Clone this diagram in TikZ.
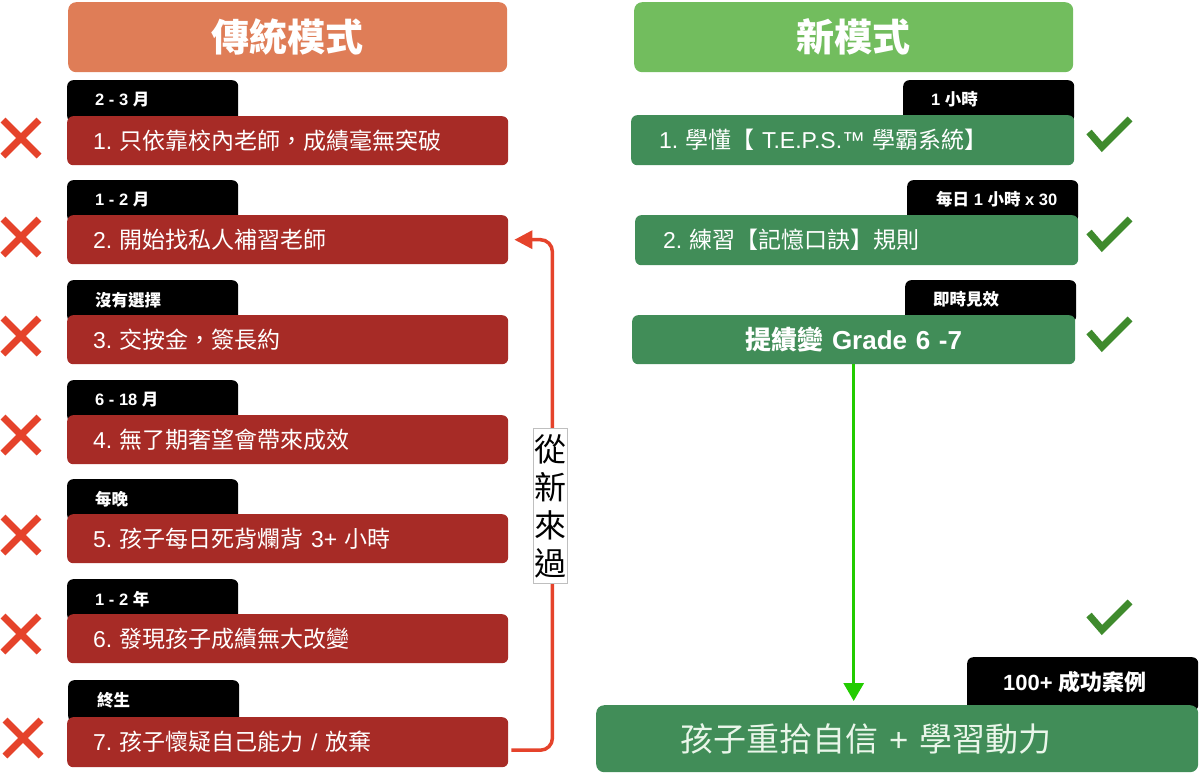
\documentclass[tikz,border=0pt]{standalone}
\usepackage{fontspec}
\setmainfont{Noto Sans CJK TC}
\newfontfamily\lat{Liberation Sans}
\newcommand\numb[1]{{\lat #1.}\hspace{7pt}}
\usetikzlibrary{arrows.meta,calc}
\definecolor{orangeT}{HTML}{DF7D57}
\definecolor{greenT}{HTML}{72BD5E}
\definecolor{boxred}{HTML}{A72B26}
\definecolor{boxgreen}{HTML}{418D58}
\definecolor{crossred}{HTML}{E5432B}
\definecolor{checkgreen}{HTML}{3F8B2D}
\definecolor{arrowgreen}{HTML}{22CC00}
\definecolor{fintext}{HTML}{EAF6EA}
\tikzset{
  titlebox/.style={rounded corners=8pt, text=white, font=\bfseries\fontsize{38}{44}\selectfont,
    minimum width=439pt, minimum height=70pt, inner sep=0pt, anchor=north west},
  lbox/.style={fill=boxred, rounded corners=6pt, text=white, font=\fontsize{23}{27}\selectfont,
    inner xsep=26pt, inner ysep=0pt, text width=389pt, minimum height=49pt, align=left, anchor=north west},
  rbox/.style={fill=boxgreen, rounded corners=6pt, text=white, font=\fontsize{23}{27}\selectfont,
    inner xsep=28pt, inner ysep=0pt, text width=387pt, minimum height=50pt, align=left, anchor=north west},
  tagbox/.style={fill=black, rounded corners=6pt, minimum width=171pt, minimum height=42pt,
    anchor=north west, inner sep=0pt},
  tagtext/.style={text=white, font=\bfseries\fontsize{16.5}{19}\selectfont, anchor=west, inner sep=0pt},
  crossline/.style={draw=crossred, line width=7pt},
  checkline/.style={draw=checkgreen, line width=7pt, line join=miter},
  redoline/.style={draw=crossred, line width=3.5pt, rounded corners=12pt,
    -{Triangle[width=18pt,length=18pt]}},
  goline/.style={draw=arrowgreen, line width=3pt, -{Triangle[width=20pt,length=18pt]}},
}
\begin{document}
\begin{tikzpicture}[x=1pt,y=-1pt]
\useasboundingbox (0,0) rectangle (1200,774);

% titles
\node[titlebox, fill=orangeT] (tL) at (68,2) {傳統模式};
\node[titlebox, fill=greenT] (tR) at (634,2) {新模式};

% left column
\node[tagbox] (lt1) at (67,80) {};
\node[lbox] (l1) at (67,116) {\numb{1}只依靠校內老師，成績毫無突破};
\node[tagtext] (lx1) at ($(lt1.north west)+(28,20)$) {{\lat 2 - 3 }月};

\node[tagbox] (lt2) at (67,180) {};
\node[lbox] (l2) at (67,215) {\numb{2}開始找私人補習老師};
\node[tagtext] (lx2) at ($(lt2.north west)+(28,20)$) {{\lat 1 - 2 }月};

\node[tagbox] (lt3) at (67,280) {};
\node[lbox] (l3) at (67,315) {\numb{3}交按金，簽長約};
\node[tagtext] (lx3) at ($(lt3.north west)+(28,20)$) {沒有選擇};

\node[tagbox] (lt4) at (67,380) {};
\node[lbox] (l4) at (67,415) {\numb{4}無了期奢望會帶來成效};
\node[tagtext] (lx4) at ($(lt4.north west)+(28,20)$) {{\lat 6 - 18 }月};

\node[tagbox] (lt5) at (67,479) {};
\node[lbox] (l5) at (67,514) {\numb{5}孩子每日死背爛背{\lat\ 3+ }小時};
\node[tagtext] (lx5) at ($(lt5.north west)+(28,20)$) {每晚};

\node[tagbox] (lt6) at (67,579) {};
\node[lbox] (l6) at (67,614) {\numb{6}發現孩子成績無大改變};
\node[tagtext] (lx6) at ($(lt6.north west)+(28,20)$) {{\lat 1 - 2 }年};

\node[tagbox] (lt7) at (68,680) {};
\node[lbox, minimum height=50pt] (l7) at (67,717) {\numb{7}孩子懷疑自己能力{\lat\ / }放棄};
\node[tagtext] (lx7) at ($(lt7.north west)+(29,20)$) {終生};

% crosses
\foreach \yy in {138,237,336,435,535,634} {
  \draw[crossline] (3,\yy-18) -- (39,\yy+18);
  \draw[crossline] (3,\yy+18) -- (39,\yy-18);
}
\draw[crossline] (5,720) -- (41,756);
\draw[crossline] (5,756) -- (41,720);

% right column
\node[tagbox] (rt1) at (903,80) {};
\node[rbox] (r1) at (631,115) {\numb{1}學懂【{\lat\ T.E.P.S.™ }學霸系統】};
\node[tagtext] (rx1) at ($(rt1.north west)+(28,19)$) {{\lat 1 }小時};

\node[tagbox] (rt2) at (907,180) {};
\node[rbox] (r2) at (635,215) {\numb{2}練習【記憶口訣】規則};
\node[tagtext] (rx2) at ($(rt2.north west)+(29,19)$) {每日{\lat\ 1 }小時{\lat\ x 30}};

\node[tagbox] (rt3) at (905,280) {};
\node[rbox, inner xsep=10pt, text width=423pt, align=center, font=\bfseries\fontsize{26}{30}\selectfont, minimum height=49pt] (r3) at (632,315) {提績變{\lat\ Grade 6 -7}};
\node[tagtext] (rx3) at ($(rt3.north west)+(28,19)$) {即時見效};

% checks
\foreach \yy in {135,235,335,618} {
  \draw[checkline] (1089,\yy-3) -- (1102,\yy+12) -- (1130,\yy-16);
}

% final
\node[tagbox, minimum width=231pt, minimum height=54pt] (ft) at (967,657) {};
\node[rbox, fill=boxgreen, rounded corners=8pt, text=fintext, inner xsep=84pt, text width=434pt,
  minimum height=67pt, font=\fontsize{33}{39}\selectfont] (fin) at (596,705) {孩子重拾自信{\lat\ + }學習動力};
\node[tagtext, font=\bfseries\fontsize{22}{26}\selectfont] (fx) at ($(ft.north west)+(36,25)$) {{\lat 100+ }成功案例};

% connectors
\draw[goline] (r3.south) -- ($(r3.south |- fin.north)+(0,-4)$);
\draw[redoline] ($(l7.east)+(3,8)$) -| ($(l2.east)+(44,0)$) -- ($(l2.east)+(6,0)$);
\node[fill=white, draw=black!25, line width=0.8pt, inner xsep=1pt, inner ysep=6pt, align=center,
  font=\fontsize{32}{38}\selectfont] (redo) at (550.5,506) {從\\新\\來\\過};
\end{tikzpicture}
\end{document}
